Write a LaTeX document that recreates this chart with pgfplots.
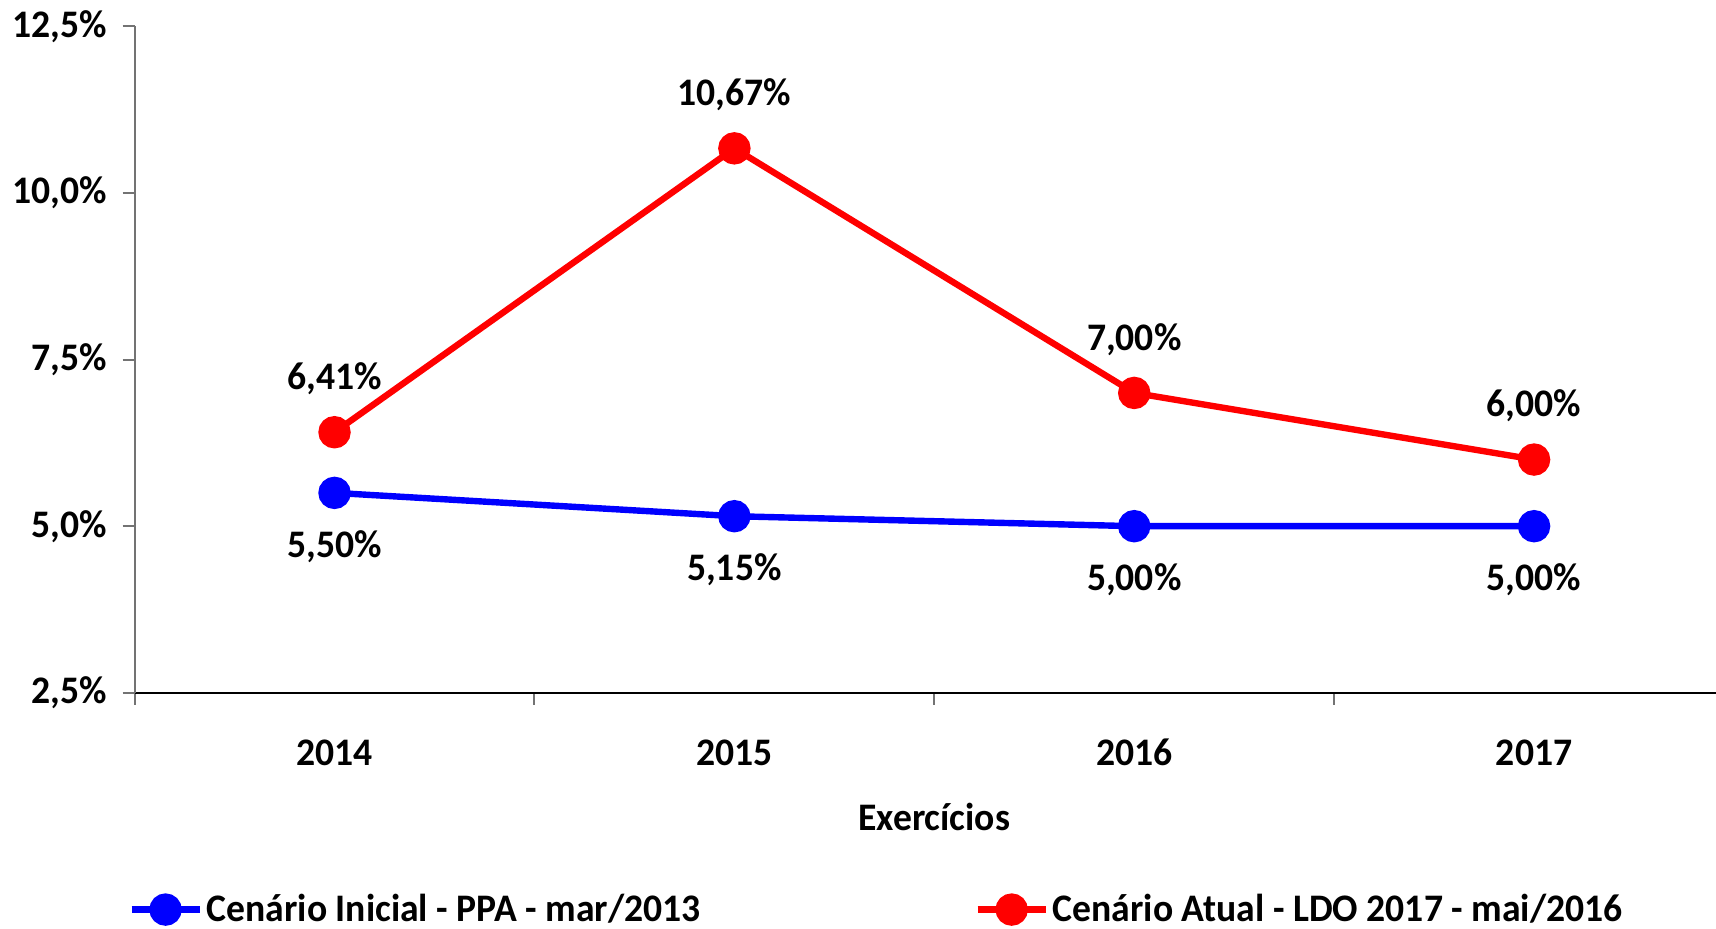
\documentclass[border=0pt]{standalone}
\usepackage{pgfplots}
\pgfplotsset{compat=1.18}
\usepackage{fontspec}
\setmainfont{Carlito}[FakeStretch=0.965]
\begin{document}
\begin{tikzpicture}
\begin{axis}[
  name=ax,
  scale only axis,
  width=790.7pt, height=333.2pt,
  xmin=-0.5, xmax=3.455,
  ymin=2.5, ymax=12.5,
  clip=false,
  axis x line=bottom, axis y line=left,
  axis line style={-},
  x axis line style={black, line width=1pt},
  y axis line style={black!55, line width=1pt},
  xtick={0,1,2,3},
  xticklabels={2014,2015,2016,2017},
  minor xtick={-0.5,0.5,1.5,2.5},
  tick align=outside,
  major tick length=6pt,
  minor tick length=6pt,
  major x tick style={draw=none},
  every tick/.style={black!55, line width=1pt},
  ytick={2.5,5,7.5,10,12.5},
  /pgf/number format/assume math mode=true,
  yticklabel={\pgfmathprintnumber[fixed,fixed zerofill,precision=1,use comma]{\tick}\%},
  tick label style={font=\bfseries\fontsize{19.5}{23}\selectfont},
  yticklabel style={anchor=east, xshift=-4.2pt},
  xticklabel style={anchor=base, yshift=-30.5pt},
  xlabel={Exercícios},
  xlabel style={at={(axis cs:1.5,2.5)}, anchor=center, yshift=-62.2pt, font=\bfseries\fontsize{19.5}{23}\selectfont},
  nodes near coords={\pgfmathprintnumber[fixed,fixed zerofill,precision=2,use comma]{\pgfplotspointmeta}\%},
  every node near coord/.append style={font=\bfseries\fontsize{19.5}{23}\selectfont, anchor=center, text=black},
  legend style={at={(axis description cs:-0.0042,-0.3253)}, anchor=west, draw=none, fill=none,
    font=\bfseries\fontsize{19.5}{23}\selectfont, inner sep=0pt,
    /tikz/every even column/.append style={column sep=135pt}},
  legend columns=2,
  legend cell align=left,
  legend image code/.code={\draw[mark repeat=2,mark phase=2,#1] plot coordinates {(0pt,0pt) (17pt,0pt) (34pt,0pt)};},
]
\addplot[blue, line width=3.2pt, mark=*, mark size=6.5pt, mark options={solid},
  every node near coord/.append style={yshift=-26.7pt}]
  coordinates {(0,5.50) (1,5.15) (2,5.00) (3,5.00)};
\addlegendentry{Cenário Inicial - PPA - mar/2013}
\addplot[red, line width=3.2pt, mark=*, mark size=6.5pt, mark options={solid},
  every node near coord/.append style={yshift=26.7pt}]
  coordinates {(0,6.41) (1,10.67) (2,7.00) (3,6.00)};
\addlegendentry{Cenário Atual - LDO 2017 - mai/2016}
\end{axis}
\pgfresetboundingbox
\path ([xshift=-67.3pt,yshift=-118.1pt]ax.south west) rectangle ([yshift=13.2pt]ax.north east);
\end{tikzpicture}
\end{document}
